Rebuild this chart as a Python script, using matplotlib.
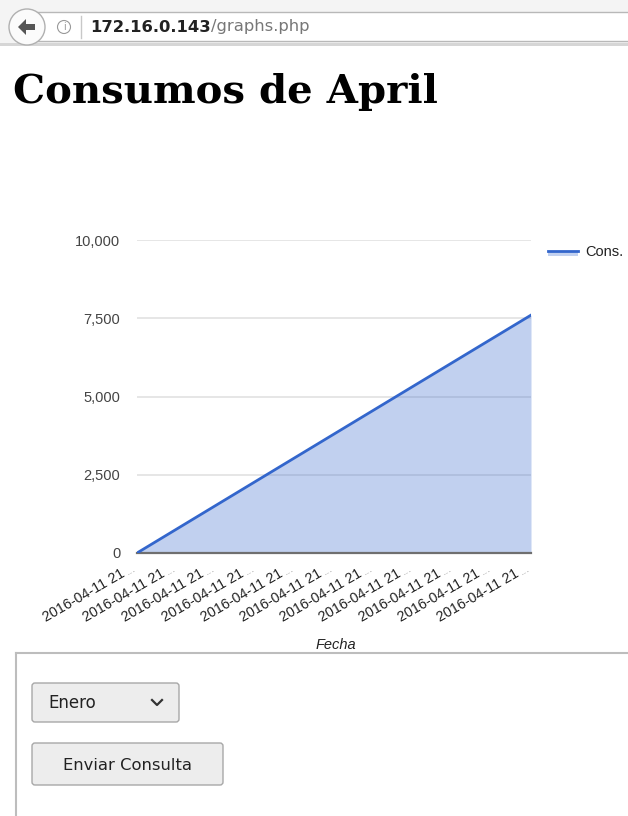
import math
import matplotlib.pyplot as plt
from matplotlib.patches import FancyBboxPatch, Circle, Polygon, Rectangle

# chart data
fechas = ["2016-04-11 21…"] * 11
consumo = [0, 760, 1520, 2280, 3040, 3800, 4560, 5320, 6080, 6840, 7600]
y_ticks = [0, 2500, 5000, 7500, 10000]
serie = "Cons."

W, H = 628, 816
fig = plt.figure(figsize=(W / 100, H / 100), dpi=100)

# page layer in pixel coords
ui = fig.add_axes([0, 0, 1, 1], zorder=0)
ui.set_xlim(0, W)
ui.set_ylim(H, 0)
ui.axis('off')

# browser bar
ui.add_patch(Rectangle((0, 0), W, 44, facecolor='#f4f4f4', edgecolor='none'))
ui.add_patch(Rectangle((27, 12), W, 29, facecolor='white', edgecolor='#b8b8b8', lw=1))
ui.add_patch(Rectangle((0, 43), W, 3, facecolor='#d6d6d6', edgecolor='none'))
ui.add_patch(Circle((27, 27), 18, facecolor='#fbfbfb', edgecolor='#b0b0b0', lw=1))
ui.add_patch(Polygon([(18, 27), (26, 19), (26, 24), (35, 24), (35, 30),
                      (26, 30), (26, 35)], closed=True, facecolor='#555', edgecolor='none'))
ui.add_patch(Circle((64, 27), 6.5, facecolor='none', edgecolor='#999', lw=0.8))
ui.text(64, 27.5, "i", fontsize=7, color='#999', ha='center', va='center')
ui.plot([81, 81], [16, 38], color='#c8c8c8', lw=1)
host = ui.text(90, 27, "172.16.0.143", fontsize=11.8, fontweight='bold', color='#222',
               family='DejaVu Sans', va='center')
ui.annotate("/graphs.php", xy=(1, 0), xycoords=host, fontsize=11.8, color='#777',
            family='DejaVu Sans', va='bottom', ha='left')

# page title
ui.text(13, 103, "Consumos de April", fontsize=29, fontweight='bold',
        family='DejaVu Serif', color='black', va='baseline')

# form below the chart
ui.plot([16, W], [653, 653], color='#bdbdbd', lw=1.5)
ui.plot([16, 16], [653, H], color='#bdbdbd', lw=1.5)
ui.add_patch(FancyBboxPatch((32, 683), 147, 39, boxstyle='round,pad=0,rounding_size=3',
                            facecolor='#ededed', edgecolor='#a8a8a8', lw=1))
ui.text(48, 703, "Enero", fontsize=12, color='#222', va='center', family='DejaVu Sans')
ui.plot([152, 157, 162], [700, 705, 700], color='#333', lw=1.6)
ui.add_patch(FancyBboxPatch((32, 743), 191, 42, boxstyle='round,pad=0,rounding_size=3',
                            facecolor='#ededed', edgecolor='#a8a8a8', lw=1))
ui.text(127.5, 765, "Enviar Consulta", fontsize=11.8, color='#222', ha='center',
        va='center', family='DejaVu Sans')

# chart
left, right, top, bottom = 137, 531, 240, 553
ax = fig.add_axes([left / W, 1 - bottom / H, (right - left) / W, (bottom - top) / H], zorder=1)
ax.patch.set_alpha(0)
x = list(range(len(consumo)))
ax.set_xlim(0, len(consumo) - 1)
ax.set_ylim(0, 10000)
for v in y_ticks[1:]:
    ax.axhline(v, color='#e2e2e2', lw=1.2, zorder=0)
ax.fill_between(x, consumo, color='#3366cc', alpha=0.3, lw=0, zorder=1)
ax.plot(x, consumo, color='#3366cc', lw=2, zorder=3)
ax.axhline(0, color='#6f6f6f', lw=1.6, zorder=2, clip_on=False)
for s in ax.spines.values():
    s.set_visible(False)
ax.set_yticks(y_ticks)
ax.set_yticklabels([f"{v:,}" for v in y_ticks], family='Liberation Sans', fontsize=10.5, color='#444')
ax.tick_params(axis='y', length=0, pad=12)
ax.set_xticks([])

# slanted category labels, grey ellipsis at the end
ang = 30
dx = 9
for xi, lab in zip(x, fechas):
    base = lab.rstrip("…")
    ax.annotate("...", xy=(xi, 0), xycoords=('data', 'axes fraction'),
                xytext=(0, -12), textcoords='offset points', rotation=ang,
                rotation_mode='anchor', ha='right', va='baseline',
                fontsize=9, color='#aaa', family='Liberation Sans', annotation_clip=False)
    ax.annotate(base, xy=(xi, 0), xycoords=('data', 'axes fraction'),
                xytext=(-dx * math.cos(math.radians(ang)), -12 - dx * math.sin(math.radians(ang))),
                textcoords='offset points', rotation=ang, rotation_mode='anchor',
                ha='right', va='baseline', fontsize=10.3, color='#222',
                family='Liberation Sans', annotation_clip=False)

ui.text(336, 645, "Fecha", fontsize=10.5, style='italic', color='#222',
        family='Liberation Sans', ha='center', va='center')

# legend
ui.add_patch(Rectangle((548, 251), 30, 5, facecolor='#c2d1f0', edgecolor='none'))
ui.plot([548, 578], [251, 251], color='#3366cc', lw=2)
ui.text(585, 252, serie, fontsize=10.5, color='#222', family='Liberation Sans', va='center')

fig.savefig("out.png", dpi=100)
